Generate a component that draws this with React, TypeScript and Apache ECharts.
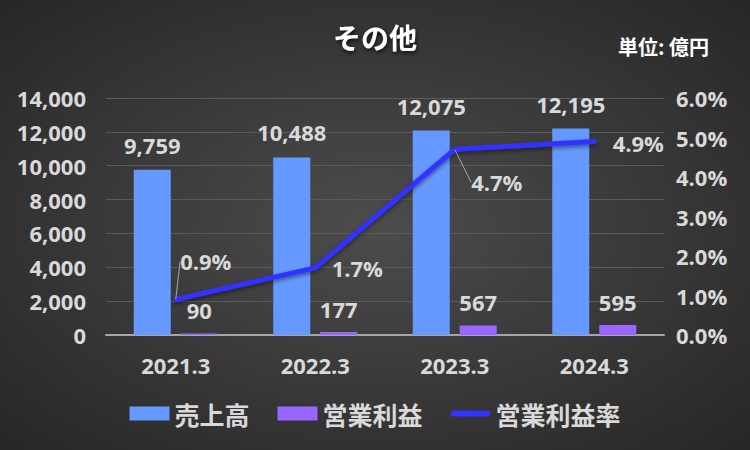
import React, { useEffect, useRef } from "react";
import * as echarts from "echarts";

const categories = ["2021.3", "2022.3", "2023.3", "2024.3"];
const sales = [9759, 10488, 12075, 12195];
const operatingProfit = [90, 177, 567, 595];
const operatingMargin = [0.9, 1.7, 4.7, 4.9];
const leftTicks = { min: 0, max: 14000, interval: 2000 };
const rightTicks = { min: 0, max: 6, interval: 1 };
const marginLabelOffsets = [
  [30, -38],
  [42, 0],
  [42, 33],
  [44, 2],
];
const marginLabelLine = [true, false, true, false];

const FONT = "'Open Sans', 'Noto Sans CJK JP', sans-serif";
const CJK = "'Noto Sans CJK JP', sans-serif";
const TXT = "#d9d9d9";

export default function App() {
  const ref = useRef<HTMLDivElement>(null);
  useEffect(() => {
    document.body.style.margin = "0";
    const chart = echarts.init(ref.current!, null, { renderer: "svg" });
    chart.setOption({
      animation: false,
      backgroundColor: {
        type: "radial",
        x: 0.5,
        y: 0.5,
        r: 0.75,
        colorStops: [
          { offset: 0, color: "#4c4c4c" },
          { offset: 1, color: "#242424" },
        ],
      },
      textStyle: { fontFamily: FONT },
      title: [
        {
          text: "その他",
          left: "center",
          top: 18,
          textStyle: {
            color: "#ffffff",
            fontSize: 28,
            fontWeight: "bold",
            fontFamily: CJK,
            textShadowColor: "rgba(0,0,0,0.8)",
            textShadowBlur: 4,
            textShadowOffsetX: 1,
            textShadowOffsetY: 2,
          },
        },
        {
          text: "単位: 億円",
          right: 36,
          top: 31,
          textStyle: { color: "#ffffff", fontSize: 20, fontWeight: "bold", fontFamily: CJK },
        },
      ],
      legend: {
        bottom: 19,
        left: "center",
        itemWidth: 40,
        itemHeight: 14,
        itemGap: 28,
        textStyle: { color: TXT, fontSize: 25, fontWeight: "bold", fontFamily: CJK },
        data: [
          { name: "売上高", icon: "rect" },
          { name: "営業利益", icon: "rect" },
          { name: "営業利益率", icon: "path://M3,0 H37 A3,3 0 0 1 37,6 H3 A3,3 0 0 1 3,0 Z" },
        ],
      },
      grid: { left: 106, right: 86, top: 98, bottom: 115, containLabel: false },
      xAxis: {
        type: "category",
        data: categories,
        axisLine: { lineStyle: { color: "#a6a6a6", width: 2 } },
        axisTick: { show: false },
        axisLabel: { color: TXT, fontSize: 22, fontWeight: "bold", margin: 19, fontFamily: FONT },
      },
      yAxis: [
        {
          type: "value",
          ...leftTicks,
          axisLabel: {
            color: TXT,
            fontSize: 22,
            fontWeight: "bold",
            margin: 20,
            fontFamily: FONT,
            formatter: (v: number) => v.toLocaleString("en-US"),
          },
          splitLine: { lineStyle: { color: "#5a5a5a", width: 1 } },
          axisLine: { show: false },
          axisTick: { show: false },
        },
        {
          type: "value",
          ...rightTicks,
          position: "right",
          axisLabel: {
            color: TXT,
            fontSize: 22,
            fontWeight: "bold",
            margin: 12,
            fontFamily: FONT,
            formatter: (v: number) => v.toFixed(1) + "%",
          },
          splitLine: { show: false },
          axisLine: { show: false },
          axisTick: { show: false },
        },
      ],
      series: [
        {
          name: "売上高",
          type: "bar",
          data: sales,
          barWidth: 37,
          barGap: "27%",
          itemStyle: { color: "#6699ff" },
          label: {
            show: true,
            position: "top",
            distance: 14,
            color: TXT,
            fontSize: 22,
            fontWeight: "bold",
            fontFamily: FONT,
            formatter: (p: any) => p.value.toLocaleString("en-US"),
          },
        },
        {
          name: "営業利益",
          type: "bar",
          data: operatingProfit,
          barWidth: 37,
          itemStyle: { color: "#9966ff" },
          label: {
            show: true,
            position: "top",
            distance: 12,
            color: TXT,
            fontSize: 22,
            fontWeight: "bold",
            fontFamily: FONT,
            formatter: (p: any) => p.value.toLocaleString("en-US"),
          },
        },
        {
          name: "営業利益率",
          type: "line",
          yAxisIndex: 1,
          data: operatingMargin.map((v, i) => ({
            value: v,
            labelLine: { show: marginLabelLine[i] },
          })),
          symbol: "circle",
          symbolSize: 1,
          showSymbol: true,
          lineStyle: { color: "#3333ff", width: 5, cap: "round", shadowColor: "rgba(0,0,0,0.5)", shadowBlur: 4, shadowOffsetY: 2 },
          itemStyle: { color: "#3333ff" },
          label: {
            show: true,
            position: "inside",
            color: TXT,
            fontSize: 22,
            fontWeight: "bold",
            fontFamily: FONT,
            formatter: (p: any) => p.value.toFixed(1) + "%",
          },
          labelLine: { show: true, lineStyle: { color: "#a6a6a6", width: 1 } },
          labelLayout: (params: any) => {
            const o = marginLabelOffsets[params.dataIndex];
            return { dx: o[0], dy: o[1] };
          },
        },
      ],
    });
    return () => chart.dispose();
  }, []);
  return <div ref={ref} style={{ position: "absolute", left: 0, top: 0, width: 750, height: 450 }} />;
}
